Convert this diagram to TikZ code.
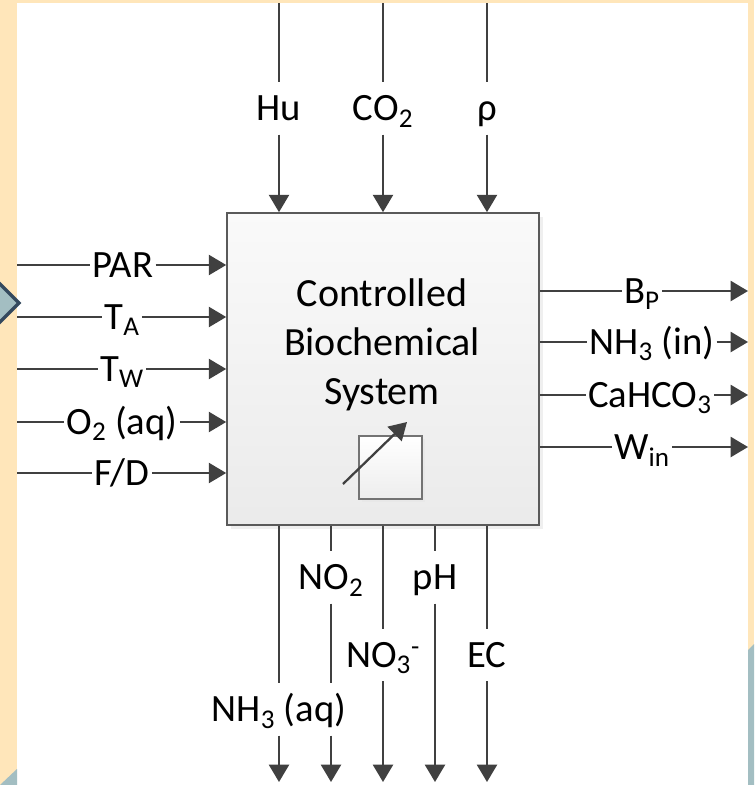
\documentclass[tikz,border=0pt]{standalone}
\usepackage{fontspec}
\setmainfont{Carlito}
\usetikzlibrary{arrows.meta,shadows}
\definecolor{beige}{HTML}{FFE6BA}
\definecolor{slate}{HTML}{A3BEC2}
\definecolor{slateedge}{HTML}{34495E}
\definecolor{arr}{HTML}{404040}
\definecolor{boxedge}{HTML}{5A5A5A}
\begin{document}
\begin{tikzpicture}[x=0.75pt,y=-0.75pt,
  conn/.style={draw=arr,line width=1.7pt},
  arrowed/.style={conn,-{Triangle[width=15pt,length=13pt]}},
  lblfont/.style={font=\fontsize{29pt}{34pt}\selectfont},
  vlbl/.style={lblfont,inner xsep=0pt,inner ysep=10pt,text height=18.7pt,text depth=0pt},
  hlbl/.style={lblfont,inner xsep=1.5pt,inner ysep=2pt,text height=18.7pt,text depth=0pt}]
\useasboundingbox (0,0) rectangle (754,785);
% background
\fill[beige] (0,0) rectangle (754,785);
\fill[white] (17,3) rectangle (748,785);
\fill[slate] (748,650) -- (754,644) -- (754,785) -- (748,785) -- cycle;
\fill[slate] (0,785) -- (17,769) -- (17,785) -- cycle;
\draw[slateedge,fill=slate,line width=2.5pt] (19,303) -- (-5,279) -- (-29,303) -- (-5,327) -- cycle;
% main box
\node[draw=boxedge,line width=1.2pt,minimum width=234pt,minimum height=234pt,inner sep=0pt,
  top color=black!2,bottom color=black!8,
  drop shadow={shadow xshift=3pt,shadow yshift=-3pt,fill=black!12}] (sys) at (383,369) {};
\node[font=\fontsize{30pt}{36.75pt}\selectfont,align=center] (title) at (382,345) {Controlled\\Biochemical\\System};
\node[draw=black!55,line width=0.8pt,minimum size=47.25pt,inner sep=0pt,
  top color=white,bottom color=black!7,
  drop shadow={shadow xshift=2pt,shadow yshift=-2pt,fill=black!10}] (dial) at (390.5,467.5) {};
\coordinate (da) at (343,484);
\coordinate (db) at (407,422);
\draw[arrowed] (da) -- (db);
% top inputs
\coordinate (hu0) at (279,3);
\coordinate (co0) at (383,3);
\coordinate (rho0) at (487,3);
\node[vlbl] (hu) at (279,108.5) {Hu};
\node[vlbl] (co) at (383,108.5) {CO\textsubscript{2}};
\node[vlbl] (rho) at (487,108.5) {ρ};
\draw[conn] (hu0) -- (hu);
\draw[conn] (co0) -- (co);
\draw[conn] (rho0) -- (rho);
\draw[arrowed] (hu) -- (hu |- sys.north);
\draw[arrowed] (co) -- (co |- sys.north);
\draw[arrowed] (rho) -- (rho |- sys.north);
% left inputs
\coordinate (par0) at (17,265);
\coordinate (ta0) at (17,317);
\coordinate (tw0) at (17,369);
\coordinate (o20) at (17,422);
\coordinate (fd0) at (17,473);
\node[hlbl] (par) at (123,265) {PAR};
\node[hlbl] (ta) at (122,317) {T\textsubscript{A}};
\node[hlbl] (tw) at (122,369) {T\textsubscript{W}};
\node[hlbl] (o2) at (122,422) {O\textsubscript{2} (aq)};
\node[hlbl] (fd) at (122,473) {F/D};
\foreach \n in {par,ta,tw,o2,fd}{
  \draw[conn] (\n0) -- (\n);
  \draw[arrowed] (\n) -- (\n -| sys.west);
}
% right outputs
\node[hlbl] (bp) at (642,291) {B\textsubscript{P}};
\node[hlbl] (nhin) at (652,342) {NH\textsubscript{3} (in)};
\node[hlbl] (ca) at (650,395) {CaHCO\textsubscript{3}};
\node[hlbl] (win) at (642,447) {W\textsubscript{in}};
\coordinate (bp1) at (748,291);
\coordinate (nhin1) at (748,342);
\coordinate (ca1) at (748,395);
\coordinate (win1) at (748,447);
\foreach \n in {bp,nhin,ca,win}{
  \draw[conn] (\n -| sys.east) -- (\n);
  \draw[arrowed] (\n) -- (\n1);
}
% bottom outputs
\node[vlbl] (nhaq) at (279,709.5) {NH\textsubscript{3} (aq)};
\node[vlbl] (no2) at (331,577.5) {NO\textsubscript{2}};
\node[vlbl] (no3) at (383,655) {NO\textsubscript{3}\textsuperscript{-}};
\node[vlbl] (ph) at (435,577.5) {pH};
\node[vlbl] (ec) at (487,655) {EC};
\coordinate (nhaq1) at (279,782);
\coordinate (no21) at (331,782);
\coordinate (no31) at (383,782);
\coordinate (ph1) at (435,782);
\coordinate (ec1) at (487,782);
\draw[conn] (nhaq |- sys.south) -- (nhaq);
\draw[arrowed] (nhaq) -- (nhaq1);
\draw[conn] (no2 |- sys.south) -- (no2);
\draw[conn] (no2) -- (no2 |- nhaq.north);
\draw[arrowed] (no2 |- nhaq.south) -- (no21);
\foreach \n in {no3,ph,ec}{
  \draw[conn] (\n |- sys.south) -- (\n);
  \draw[arrowed] (\n) -- (\n1);
}
\end{tikzpicture}
\end{document}
